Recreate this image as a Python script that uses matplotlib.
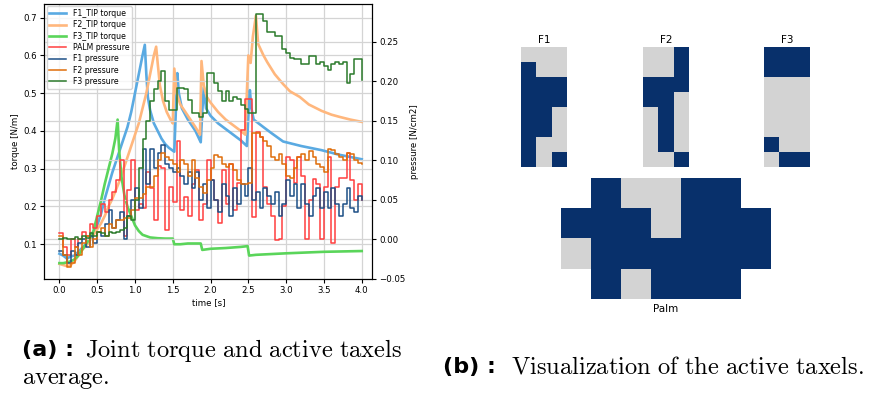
import numpy as np
import matplotlib
matplotlib.use('Agg')
import matplotlib.pyplot as plt
from matplotlib.colors import ListedColormap

# ---- torque curves (time [s], torque [N/m]) ----
f1_tip_t = [0.0, 0.05, 0.1, 0.15, 0.2, 0.25, 0.3, 0.35, 0.4, 0.45, 0.5, 0.55, 0.6, 0.65, 0.7, 0.75, 0.8,
            0.85, 0.9, 0.95, 1.0, 1.05, 1.08, 1.1, 1.13, 1.15, 1.17, 1.2, 1.25, 1.3, 1.35, 1.4, 1.45, 1.52,
            1.54, 1.56, 1.58, 1.62, 1.7, 1.8, 1.87, 1.89, 1.91, 1.94, 2.0, 2.1, 2.2, 2.3, 2.4, 2.48, 2.5,
            2.52, 2.54, 2.57, 2.7, 2.8, 2.96, 3.2, 3.47, 3.7, 4.0]
f1_tip = [0.075, 0.07, 0.062, 0.068, 0.07, 0.08, 0.09, 0.1, 0.11, 0.13, 0.15, 0.18, 0.22, 0.255, 0.29, 0.32,
          0.35, 0.38, 0.41, 0.45, 0.5, 0.55, 0.58, 0.6, 0.628, 0.55, 0.49, 0.455, 0.42, 0.4, 0.38, 0.365,
          0.355, 0.345, 0.45, 0.553, 0.5, 0.46, 0.43, 0.4, 0.37, 0.45, 0.515, 0.46, 0.44, 0.42, 0.405, 0.39,
          0.375, 0.36, 0.44, 0.508, 0.46, 0.43, 0.41, 0.395, 0.372, 0.36, 0.349, 0.337, 0.325]

f2_tip_t = [0.0, 0.05, 0.1, 0.15, 0.2, 0.25, 0.3, 0.35, 0.4, 0.45, 0.5, 0.55, 0.6, 0.65, 0.7, 0.75, 0.8,
            0.85, 0.9, 0.95, 1.0, 1.05, 1.1, 1.15, 1.2, 1.25, 1.28, 1.3, 1.33, 1.37, 1.42, 1.47, 1.5, 1.52,
            1.55, 1.6, 1.7, 1.8, 1.86, 1.88, 1.91, 1.95, 2.0, 2.1, 2.2, 2.3, 2.4, 2.46, 2.48, 2.5, 2.53,
            2.56, 2.6, 2.63, 2.7, 2.75, 2.85, 2.96, 3.05, 3.18, 3.3, 3.47, 3.6, 3.71, 3.85, 4.0]
f2_tip = [0.048, 0.045, 0.042, 0.045, 0.055, 0.07, 0.085, 0.095, 0.11, 0.125, 0.14, 0.155, 0.175, 0.2, 0.22,
          0.245, 0.27, 0.3, 0.33, 0.36, 0.39, 0.42, 0.46, 0.5, 0.55, 0.6, 0.623, 0.58, 0.52, 0.48, 0.45,
          0.43, 0.42, 0.565, 0.5, 0.47, 0.44, 0.41, 0.39, 0.585, 0.52, 0.49, 0.475, 0.45, 0.43, 0.415, 0.4,
          0.39, 0.5, 0.6, 0.58, 0.65, 0.705, 0.63, 0.6, 0.582, 0.55, 0.524, 0.505, 0.49, 0.47, 0.453, 0.443,
          0.437, 0.43, 0.424]

f3_tip_t = [0.0, 0.05, 0.1, 0.15, 0.2, 0.25, 0.3, 0.35, 0.4, 0.45, 0.5, 0.55, 0.6, 0.65, 0.7, 0.74, 0.77,
            0.79, 0.82, 0.86, 0.9, 0.95, 1.0, 1.05, 1.1, 1.2, 1.3, 1.4, 1.5, 1.52, 1.6, 1.7, 1.87, 1.89,
            2.0, 2.2, 2.4, 2.49, 2.51, 2.6, 3.0, 3.5, 4.0]
f3_tip = [0.05, 0.05, 0.052, 0.055, 0.06, 0.07, 0.085, 0.1, 0.115, 0.135, 0.175, 0.215, 0.26, 0.3, 0.34,
          0.38, 0.43, 0.35, 0.28, 0.23, 0.2, 0.175, 0.15, 0.135, 0.125, 0.118, 0.116, 0.115, 0.115, 0.1,
          0.1, 0.102, 0.102, 0.085, 0.088, 0.09, 0.093, 0.095, 0.07, 0.072, 0.076, 0.08, 0.082]

# ---- active taxels average pressure [N/cm2], one value every 0.05 s from 0 to 4 s ----
t_press = np.round(np.arange(0, 4.001, 0.05), 2)
palm_p = [0.008, -0.01, -0.02, 0.0, -0.01, 0.0, 0.01, 0.005, 0.02, 0.015,
          0.03, 0.045, 0.035, 0.05, 0.06, 0.075, 0.1, 0.005, 0.063, 0.1,
          0.037, 0.045, 0.04, 0.085, 0.065, 0.025, 0.093, 0.09, 0.012, 0.067,
          0.048, 0.124, 0.037, 0.054, 0.03, 0.07, 0.088, 0.025, 0.045, 0.101,
          0.075, 0.05, 0.021, 0.088, 0.045, 0.096, 0.037, 0.072, 0.139, 0.178,
          0.178, 0.029, 0.136, 0.13, 0.067, 0.045, 0.03, -0.001, 0.0, 0.042,
          0.105, 0.1, 0.072, 0.105, 0.08, 0.0, 0.05, 0.076, 0.07, 0.0,
          0.067, 0.105, -0.005, 0.067, 0.078, 0.078, 0.11, 0.075, 0.05, 0.07,
          0.05]
f1_p = [-0.015, -0.02, -0.03, -0.015, -0.02, -0.005, 0.0, -0.01, 0.005, -0.005,
        0.01, 0.005, 0.02, 0.037, 0.015, 0.025, 0.035, 0.0, 0.03, 0.05,
        0.065, 0.04, 0.115, 0.07, 0.115, 0.09, 0.11, 0.12, 0.095, 0.09,
        0.085, 0.09, 0.08, 0.07, 0.085, 0.065, 0.085, 0.05, 0.07, 0.04,
        0.075, 0.05, 0.035, 0.07, 0.055, 0.03, 0.065, 0.045, 0.07, 0.055,
        0.09, 0.05, 0.06, 0.04, 0.065, 0.055, 0.045, 0.06, 0.03, 0.045,
        0.075, 0.055, 0.07, 0.04, 0.07, 0.045, 0.03, 0.055, 0.065, 0.04,
        0.06, 0.04, 0.065, 0.045, 0.03, 0.045, 0.065, 0.04, 0.035, 0.055,
        0.05]
f2_p = [0.005, -0.02, -0.035, -0.03, -0.01, -0.02, -0.005, 0.005, -0.01, 0.0,
        0.01, 0.015, 0.005, 0.02, 0.015, 0.025, 0.025, 0.027, 0.027, 0.037,
        0.053, 0.053, 0.057, 0.067, 0.067, 0.08, 0.101, 0.11, 0.105, 0.1,
        0.095, 0.086, 0.1, 0.096, 0.08, 0.1, 0.078, 0.067, 0.059, 0.075,
        0.09, 0.107, 0.105, 0.095, 0.092, 0.095, 0.088, 0.075, 0.07, 0.07,
        0.072, 0.135, 0.135, 0.13, 0.124, 0.118, 0.104, 0.1, 0.108, 0.095,
        0.08, 0.078, 0.09, 0.105, 0.108, 0.1, 0.112, 0.105, 0.096, 0.092,
        0.086, 0.115, 0.113, 0.108, 0.105, 0.1, 0.11, 0.108, 0.1, 0.097,
        0.095]
f3_p = [0.0, 0.002, 0.0, 0.0, 0.003, 0.0, 0.005, 0.002, 0.008, 0.005,
        0.01, 0.008, 0.005, 0.01, 0.008, 0.01, 0.012, 0.015, 0.03, 0.025,
        0.05, 0.09, 0.127, 0.15, 0.175, 0.19, 0.2, 0.213, 0.175, 0.164,
        0.164, 0.192, 0.192, 0.19, 0.177, 0.16, 0.16, 0.155, 0.16, 0.211,
        0.211, 0.198, 0.1875, 0.175, 0.1875, 0.175, 0.18, 0.178, 0.17, 0.165,
        0.16, 0.16, 0.285, 0.285, 0.277, 0.262, 0.262, 0.258, 0.258, 0.241,
        0.236, 0.23, 0.228, 0.228, 0.222, 0.222, 0.232, 0.232, 0.222, 0.224,
        0.219, 0.215, 0.222, 0.224, 0.222, 0.224, 0.198, 0.21, 0.228, 0.228,
        0.202]

# ---- taxel maps: 1 = active, 0 = inactive, nan = no taxel ----
nan = np.nan
taxels_f1 = [[0, 0, 0], [1, 0, 0], [1, 1, 1], [1, 1, 1], [1, 1, 0], [1, 1, 0], [1, 0, 0], [1, 0, 1]]
taxels_f2 = [[0, 0, 1], [0, 0, 1], [1, 1, 1], [1, 1, 0], [0, 1, 0], [0, 1, 0], [0, 1, 0], [0, 0, 1]]
taxels_f3 = [[1, 1, 1], [1, 1, 1], [0, 0, 0], [0, 0, 0], [0, 0, 0], [0, 0, 0], [1, 0, 0], [0, 1, 1]]
taxels_palm = [[nan, 1, 0, 0, 1, 1, nan],
               [1, 1, 1, 0, 1, 1, 1],
               [0, 1, 1, 1, 1, 1, 1],
               [nan, 1, 0, 1, 1, 1, nan]]

fig = plt.figure(figsize=(8.71, 3.94), dpi=100)
W, H = 871, 394


def box(x0, y0, x1, y1):
    # pixel box (top-left origin) -> figure fraction rect
    return [x0 / W, 1 - y1 / H, (x1 - x0) / W, (y1 - y0) / H]


# ---- (a) torque and pressure plot ----
fs = 6.2
ax = fig.add_axes(box(44.3, 4, 372.3, 279))
ax2 = ax.twinx()

l1, = ax.plot(f1_tip_t, f1_tip, color='#5aaae2', lw=1.9, label='F1_TIP torque')
l2, = ax.plot(f2_tip_t, f2_tip, color='#ffb77d', lw=1.9, label='F2_TIP torque')
l3, = ax.plot(f3_tip_t, f3_tip, color='#5ad55a', lw=1.9, label='F3_TIP torque')

p0, = ax2.step(t_press, palm_p, where='post', color='#ff3f3f', lw=1.1, label='PALM pressure')
p1, = ax2.step(t_press, f1_p, where='post', color='#1d4f86', lw=1.1, label='F1 pressure')
p2, = ax2.step(t_press, f2_p, where='post', color='#df6d0a', lw=1.1, label='F2 pressure')
p3, = ax2.step(t_press, f3_p, where='post', color='#2b7a2b', lw=1.1, label='F3 pressure')

ax.set_xlim(-0.2, 4.14)
ax.set_ylim(0.008, 0.736)
ax2.set_ylim(-0.05, 0.298)
ax.set_xticks(np.arange(0, 4.01, 0.5))
ax.set_yticks(np.arange(0.1, 0.71, 0.1))
ax2.set_yticks(np.arange(-0.05, 0.26, 0.05))
ax.grid(True, color='#d4d4d4', lw=0.9)
ax2.grid(True, color='#d4d4d4', lw=0.9)
ax.tick_params(labelsize=fs, length=3, pad=2)
ax2.tick_params(labelsize=fs, length=3, pad=2)
ax.set_xlabel('time [s]', fontsize=fs, labelpad=2)
ax.set_ylabel('torque [N/m]', fontsize=fs, labelpad=3)
ax2.set_ylabel('pressure [N/cm2]', fontsize=fs, labelpad=3)
ax2.legend(handles=[l1, l2, l3, p0, p1, p2, p3], loc='upper left', fontsize=5.6,
           borderaxespad=0.3, handlelength=2.2, labelspacing=0.3, borderpad=0.35)

# ---- (b) active taxel maps ----
cmap = ListedColormap(['lightgray', '#08306b'])


def taxel_ax(rect, data, title=None, xlabel=None):
    a = fig.add_axes(rect)
    a.imshow(np.array(data, dtype=float), cmap=cmap, vmin=0, vmax=1,
             aspect='auto', interpolation='nearest')
    a.set_xticks([])
    a.set_yticks([])
    for s in a.spines.values():
        s.set_visible(False)
    if title:
        a.set_title(title, fontsize=7.5, pad=3)
    if xlabel:
        a.set_xlabel(xlabel, fontsize=7.5, labelpad=4)
    return a


taxel_ax(box(521, 46.7, 567, 166.7), taxels_f1, title='F1')
taxel_ax(box(643, 46.7, 689, 166.7), taxels_f2, title='F2')
taxel_ax(box(764, 46.7, 810, 166.7), taxels_f3, title='F3')
taxel_ax(box(561, 177.7, 771, 298.7), taxels_palm, xlabel='Palm')

# ---- sub-captions ----
plt.rcParams['mathtext.fontset'] = 'cm'
cap = 17.6
capb = 16
fig.text(22 / W, 1 - 350 / H, '(a) :', fontsize=capb, fontweight='bold', va='center', ha='left')
fig.text(85 / W, 1 - 350 / H, r'$\mathrm{Joint\ torque\ and\ active\ taxels}$', fontsize=cap,
         va='center', ha='left')
fig.text(22 / W, 1 - 379 / H, r'$\mathrm{average.}$', fontsize=cap, va='center', ha='left')
fig.text(443 / W, 1 - 367 / H, '(b) :', fontsize=capb, fontweight='bold', va='center', ha='left')
fig.text(511 / W, 1 - 367 / H, r'$\mathrm{Visualization\ of\ the\ active\ taxels.}$', fontsize=cap,
         va='center', ha='left')

fig.savefig('out.png', dpi=100)
